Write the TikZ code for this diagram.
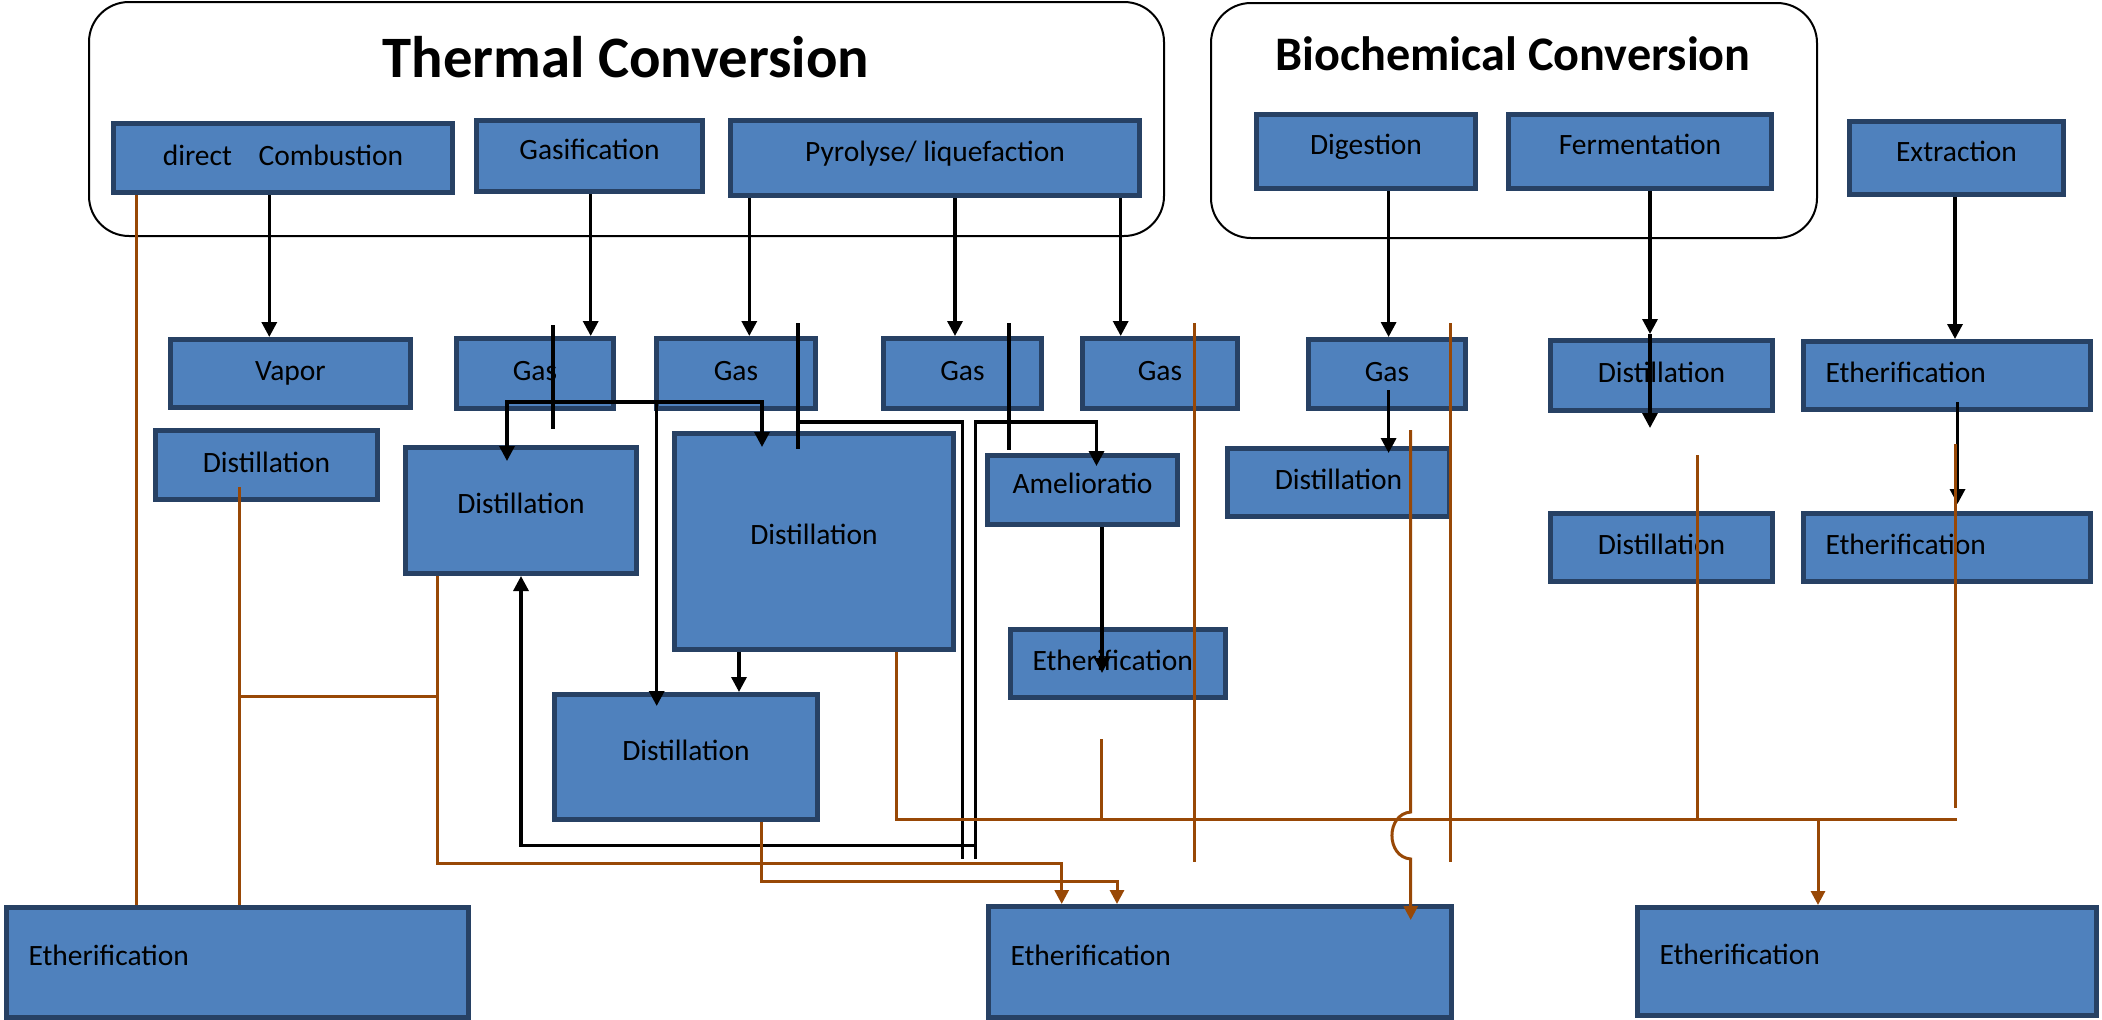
\documentclass[tikz,border=0pt]{standalone}
\usepackage{fontspec}
\setmainfont{Carlito}
\usetikzlibrary{arrows.meta}
\definecolor{boxfill}{RGB}{79,129,189}
\definecolor{boxline}{RGB}{39,65,100}
\definecolor{brncol}{RGB}{152,72,6}
\begin{document}
\begin{tikzpicture}[x=1pt,y=-1pt,
  box/.style={draw=boxline, fill=boxfill, line width=5pt, inner sep=0pt,
    font=\fontsize{29.5}{34}\selectfont, text height=20pt, text depth=14pt, align=center},
  low/.style={text depth=6pt},
  lbox/.style={box, inner xsep=22pt, text width=#1, align=left},
  grp/.style={draw=black, line width=2pt, rounded corners=40pt, inner sep=0pt},
  ttl/.style={inner sep=0pt, anchor=base},
  blk/.style={draw=black, line width=3.3pt},
  blkarr/.style={blk, -{Triangle[length=15pt,width=15pt]}},
  brline/.style={draw=brncol, line width=3pt},
  brarr/.style={brline, -{Triangle[length=14pt,width=14pt]}}]
\useasboundingbox (0,0) rectangle (2102,1020);
% groups
\node[grp, minimum width=1075pt, minimum height=234pt] (thermal) at (626.5,119) {};
\node[grp, minimum width=606pt, minimum height=235pt] (biochem) at (1514,120.5) {};
\node[ttl, font=\fontsize{58.7}{62}\selectfont\bfseries] (ttitle) at (626,77) {Thermal Conversion};
\node[ttl, font=\fontsize{48.2}{52}\selectfont\bfseries] (btitle) at (1513,70) {Biochemical Conversion};
% top boxes
\node[box, low, minimum width=339pt, minimum height=69pt] (dc) at (283,158) {direct\hspace*{20pt} Combustion};
\node[box, minimum width=226pt, minimum height=71pt] (gasif) at (589.5,156) {Gasification};
\node[box, minimum width=409pt, minimum height=75pt] (pyro) at (935,158) {Pyrolyse/ liquefaction};
\node[box, minimum width=219pt, minimum height=74pt] (dig) at (1366,151.5) {Digestion};
\node[box, minimum width=263pt, minimum height=74pt] (ferm) at (1640,151.5) {Fermentation};
\node[box, minimum width=214pt, minimum height=73pt] (extr) at (1956.5,158) {Extraction};
% second row
\node[box, low, minimum width=240pt, minimum height=68pt] (vapor) at (290.5,373.5) {Vapor};
\node[box, low, minimum width=157pt, minimum height=70pt] (gas1) at (535,373.5) {Gas};
\node[box, low, minimum width=159pt, minimum height=70pt] (gas2) at (736,373.5) {Gas};
\node[box, low, minimum width=158pt, minimum height=70pt] (gas3) at (962.5,373.5) {Gas};
\node[box, low, minimum width=155pt, minimum height=70pt] (gas4) at (1160,373.5) {Gas};
\node[box, low, minimum width=157pt, minimum height=69pt] (gas5) at (1387,374) {Gas};
\node[box, low, minimum width=222pt, minimum height=70pt] (dferm) at (1661.5,375.5) {Distillation};
\node[lbox=243pt, low, minimum width=287pt, minimum height=68pt] (eth1) at (1947,375.5) {Etherification};
% middle
\node[box, low, minimum width=222pt, minimum height=69pt] (dleft) at (266.5,465) {Distillation};
\node[box, minimum width=231pt, minimum height=126pt] (dgas) at (521,510.5) {Distillation};
\node[box, minimum width=279pt, minimum height=216pt] (dbig) at (814,541.5) {Distillation};
\node[box, minimum width=190pt, minimum height=69pt] (amel) at (1082.5,490) {Amelioratio};
\node[box, low, minimum width=222pt, minimum height=68pt] (ddig) at (1338.5,482.5) {Distillation};
\node[box, low, minimum width=222pt, minimum height=68pt] (dferm2) at (1661.5,547.5) {Distillation};
\node[lbox=243pt, low, minimum width=287pt, minimum height=68pt] (eth2) at (1947,547.5) {Etherification};
\node[lbox=171pt, low, minimum width=215pt, minimum height=68pt] (eth3) at (1118,663.5) {Etherification};
\node[box, minimum width=263pt, minimum height=125pt] (dbot) at (686,757) {Distillation};
% bottom
\node[lbox=418pt, minimum width=462pt, minimum height=110pt] (ethBL) at (237.5,962.5) {Etherification};
\node[lbox=419pt, minimum width=463pt, minimum height=111pt] (ethBM) at (1220,962) {Etherification};
\node[lbox=415pt, minimum width=459pt, minimum height=108pt] (ethBR) at (1867,961.5) {Etherification};

% ---------- black connectors ----------
\coordinate (xa1) at (269.3,0);
\coordinate (xa2) at (590.7,0);
\coordinate (xa3) at (749.3,0);
\coordinate (xa4) at (955,0);
\coordinate (xa5) at (1120.7,0);
\coordinate (xa6) at (1388.6,0);
\coordinate (xa7) at (1650,0);
\coordinate (xa8) at (1955,0);
\draw[blkarr] (dc.south -| xa1) -- (vapor.north -| xa1);
\draw[blkarr] (gasif.south -| xa2) -- (gas1.north -| xa2);
\draw[blkarr] (pyro.south -| xa3) -- (gas2.north -| xa3);
\draw[blkarr] (pyro.south -| xa4) -- (gas3.north -| xa4);
\draw[blkarr] (pyro.south -| xa5) -- (gas4.north -| xa5);
\draw[blkarr] (dig.south -| xa6) -- (gas5.north -| xa6);
\coordinate (fermmid) at (1650,334);
\coordinate (fermend) at (1650,428);
\draw[blkarr] (ferm.south -| xa7) -- (fermmid);
\draw[blkarr] (fermmid) -- (fermend);
\draw[blkarr] (extr.south -| xa8) -- (eth1.north -| xa8);
\coordinate (e1s) at (1957.5,402);
\coordinate (e1t) at (1957.5,504);
\draw[blkarr] (e1s) -- (e1t);
\coordinate (g5s) at (1388.6,390);
\coordinate (g5t) at (1388.6,453);
\draw[blkarr] (g5s) -- (g5t);
\coordinate (amt) at (1102,673);
\draw[blkarr] (amel.south -| amt) -- (amt);
\coordinate (xbd) at (739,0);
\draw[blkarr] (dbig.south -| xbd) -- (dbot.north -| xbd);
% middle network
\coordinate (hj) at (656.7,402);
\coordinate (hL) at (507,461);
\coordinate (hR) at (762,447);
\coordinate (hD) at (656.7,706);
\draw[blkarr] (hj) -| (hL);
\draw[blkarr] (hj) -| (hR);
\draw[blkarr] (hj) -- (hD);
\coordinate (v1a) at (553,325);
\coordinate (v1b) at (553,429);
\draw[blk] (v1a) -- (v1b);
\coordinate (v2a) at (798,323);
\coordinate (v2b) at (798,449);
\draw[blk] (v2a) -- (v2b);
\coordinate (v2j) at (798,422);
\coordinate (v2e) at (962.5,859);
\draw[blk] (v2j) -| (v2e);
\coordinate (v3a) at (1009,323);
\coordinate (v3b) at (1009,450);
\draw[blk] (v3a) -- (v3b);
\coordinate (v4e) at (975.5,859);
\coordinate (v4c) at (975.5,422);
\coordinate (v4t) at (1096.5,466);
\draw[blkarr] (v4e) -- (v4c) -| (v4t);
\coordinate (v5a) at (975.5,845.5);
\draw[blkarr] (v5a) -| (dgas.south);

% ---------- brown connectors ----------
\coordinate (xb1) at (136.7,0);
\draw[brline] (dc.south -| xb1) -- (ethBL.north -| xb1);
\coordinate (b2s) at (239,487);
\draw[brline] (b2s) -- (ethBL.north -| b2s);
\coordinate (b3a) at (239,696);
\coordinate (b3b) at (437,696);
\draw[brline] (b3a) -- (b3b);
\coordinate (xb4) at (437,0);
\coordinate (b4c) at (1061.7,863.3);
\draw[brarr] (dgas.south -| xb4) |- (b4c) -- (ethBM.north -| b4c);
\coordinate (xb5) at (761,0);
\coordinate (b5c) at (1117,881.7);
\draw[brarr] (dbot.south -| xb5) |- (b5c) -- (ethBM.north -| b5c);
\coordinate (xb6) at (896.3,0);
\coordinate (b6e) at (1957,819.3);
\draw[brline] (dbig.south -| xb6) |- (b6e);
\coordinate (b7a) at (1101.7,739);
\draw[brline] (b7a) -- (b7a |- b6e);
\coordinate (b8a) at (1194.3,323);
\coordinate (b8b) at (1194.3,861.7);
\draw[brline] (b8a) -- (b8b);
\coordinate (b9a) at (1410.7,430);
\coordinate (hopA) at (1410.7,812);
\coordinate (hopB) at (1410.7,859);
\coordinate (b9t) at (1410.7,920);
\draw[brarr] (b9a) -- (hopA) .. controls +(-25,2) and +(-25,-2) .. (hopB) -- (b9t);
\coordinate (b10a) at (1450,323);
\coordinate (b10b) at (1450,862);
\draw[brline] (b10a) -- (b10b);
\coordinate (b11a) at (1697,455);
\draw[brline] (b11a) -- (b11a |- b6e);
\coordinate (b12a) at (1955,444);
\coordinate (b12b) at (1955,808);
\draw[brline] (b12a) -- (b12b);
\coordinate (xb13) at (1818,0);
\draw[brarr] (b6e -| xb13) -- (ethBR.north -| xb13);
\end{tikzpicture}
\end{document}
